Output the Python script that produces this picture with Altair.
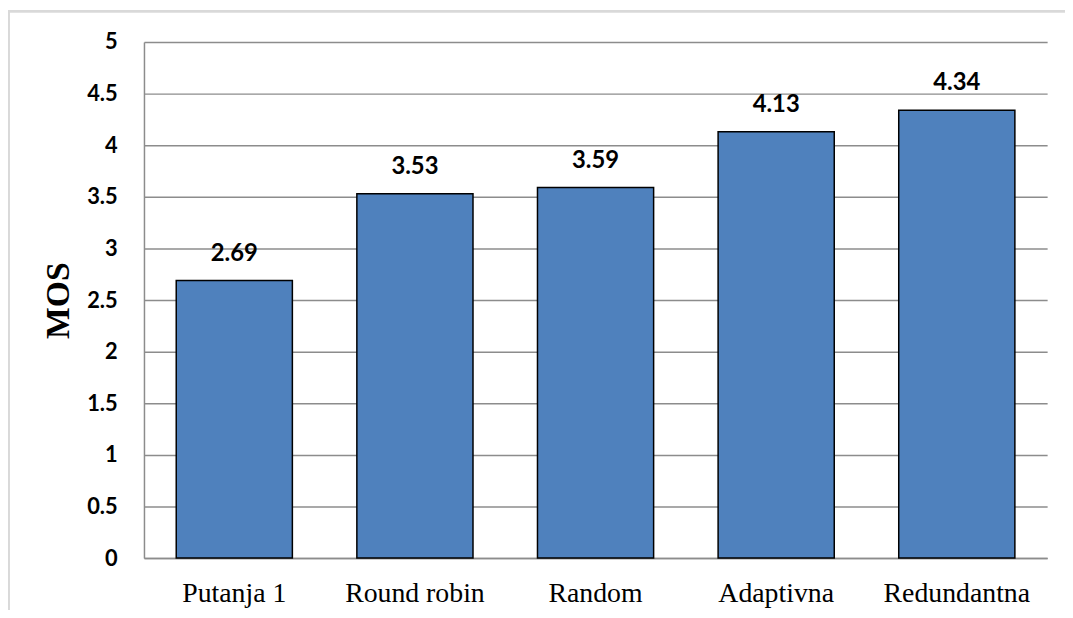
import altair as alt
import pandas as pd

categories = ["Putanja 1", "Round robin", "Random", "Adaptivna", "Redundantna"]
mos_values = [2.69, 3.53, 3.59, 4.13, 4.34]
y_ticks = [0, 0.5, 1, 1.5, 2, 2.5, 3, 3.5, 4, 4.5, 5]

df = pd.DataFrame({"category": categories, "MOS": mos_values})

W, H = 910, 520
PAD_L, PAD_T = 137, 32

x = alt.X("category:N", sort=categories, title=None,
          scale=alt.Scale(paddingInner=0.357, paddingOuter=0.1786),
          axis=alt.Axis(labelAngle=0, labelFont="Liberation Serif", labelFontSize=28,
                        labelColor="black", labelPadding=22, ticks=False,
                        domainColor="#8c8c8c", domainWidth=1.5))
y = alt.Y("MOS:Q", title="MOS",
          scale=alt.Scale(domain=[0, 5], nice=False),
          axis=alt.Axis(values=y_ticks, format="~g", labelFont="Lato", labelFontWeight="bold",
                        labelFontSize=22, labelColor="black", labelPadding=27, ticks=False,
                        grid=True, gridColor="#8c8c8c", gridWidth=1.5,
                        domainColor="#8c8c8c", domainWidth=1.5,
                        titleFont="Liberation Serif", titleFontSize=34, titleFontWeight="bold",
                        titleColor="black", titlePadding=11))

bars = alt.Chart(df).mark_bar(color="#4F81BD", stroke="black", strokeWidth=1.5).encode(x=x, y=y)

labels = alt.Chart(df).mark_text(font="Lato", fontWeight="bold", fontSize=24, color="black",
                                 baseline="bottom", dy=-15).encode(
    x=alt.X("category:N", sort=categories),
    y=alt.Y("MOS:Q"),
    text=alt.Text("MOS:Q", format=".2f"))

frame_top = alt.Chart(df).mark_rule(color="#d9d9d9", strokeWidth=2).encode(
    x=alt.value(-PAD_L), x2=alt.value(1100), y=alt.value(-31))
frame_left = alt.Chart(df).mark_rule(color="#d9d9d9", strokeWidth=2).encode(
    x=alt.value(-PAD_L + 0.5), y=alt.value(-31), y2=alt.value(700))

chart = alt.layer(frame_top, frame_left, bars, labels).properties(
    width=W, height=H,
    autosize=alt.AutoSizeParams(type="none"),
    padding={"left": PAD_L, "top": PAD_T, "right": 18, "bottom": 50},
).configure_view(stroke=None)

chart.save("out.html", embed_options={"renderer": "svg", "actions": False})
